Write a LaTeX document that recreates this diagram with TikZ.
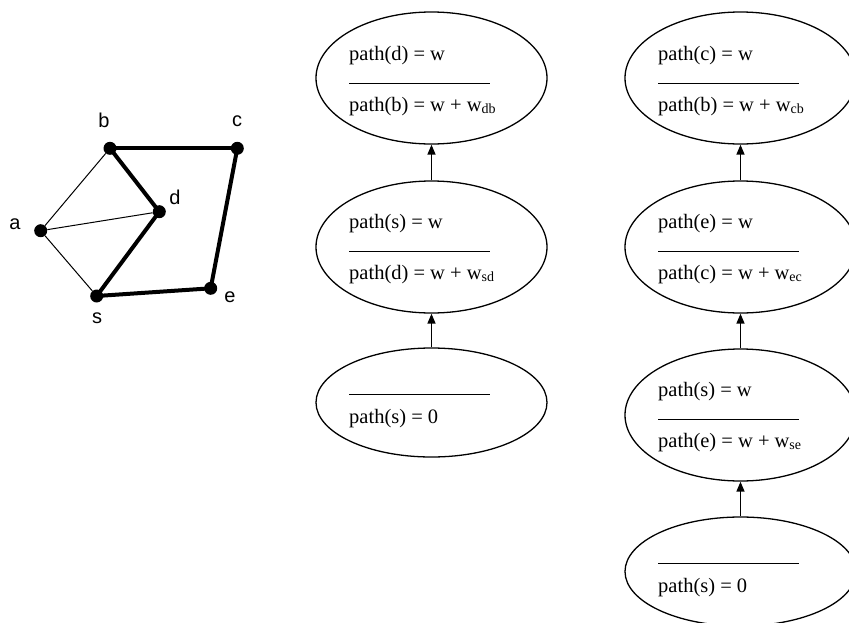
\documentclass[tikz,border=0pt]{standalone}
\usepackage{fontspec}
\setmainfont{Liberation Serif}
\newfontfamily\graphfont{Liberation Sans}
\usetikzlibrary{arrows.meta,shapes.geometric}
\newcommand{\wsub}[1]{w\raisebox{-2pt}{\fontsize{14}{14}\selectfont #1}}

\begin{document}
\begin{tikzpicture}[x=1pt,y=-1pt,
 vtx/.style={circle,fill=black,minimum size=13pt,inner sep=0pt},
 vlbl/.style={inner sep=0pt,font=\graphfont\fontsize{20}{24}\selectfont},
 thinedge/.style={line width=1pt},
 thickedge/.style={line width=4pt},
 oval/.style={draw,ellipse,line width=1.3pt,minimum width=231pt,minimum height=132pt,inner sep=0pt},
 lowoval/.style={oval,minimum height=109pt},
 txt/.style={anchor=base west,inner sep=0pt,font=\fontsize{20.5}{24}\selectfont},
 arr/.style={-{Triangle[length=10pt,width=8pt]},line width=1.5pt}]
 \useasboundingbox (0,0) rectangle (849,622);
 % graph
 \node[vtx] (a) at (40.7,230.7) {};
 \node[vtx] (b) at (110,148.3) {};
 \node[vtx] (c) at (237.3,148.3) {};
 \node[vtx] (d) at (159.3,211.7) {};
 \node[vtx] (s) at (96.7,296) {};
 \node[vtx] (e) at (210.7,288.3) {};
 \node[vlbl] (la) at (15,224) {a};
 \node[vlbl] (lb) at (104,120.5) {b};
 \node[vlbl] (lc) at (237,121.5) {c};
 \node[vlbl] (ld) at (175,197.5) {d};
 \node[vlbl] (ls) at (97,318) {s};
 \node[vlbl] (le) at (230,297) {e};
 \draw[thinedge] (a)--(b);
 \draw[thinedge] (a)--(d);
 \draw[thinedge] (a)--(s);
 \draw[thickedge] (b.center)--(c.center);
 \draw[thickedge] (b.center)--(d.center);
 \draw[thickedge] (d.center)--(s.center);
 \draw[thickedge] (s.center)--(e.center);
 \draw[thickedge] (e.center)--(c.center);

 % left column
 \node[oval] (l1) at (431.5,78) {};
 \node[oval] (l2) at (431.5,247) {};
 \node[lowoval] (l3) at (431.5,402.5) {};
 \node[txt] (l1top) at (349,60) {path(d) = w};
 \draw[line width=1pt] (349,83)--(490,83);
 \node[txt] (l1bot) at (349,111) {path(b) = w + \wsub{db}};
 \node[txt] (l2top) at (349,228) {path(s) = w};
 \draw[line width=1pt] (349,251)--(490,251);
 \node[txt] (l2bot) at (349,279) {path(d) = w + \wsub{sd}};
 \draw[line width=1pt] (349,394)--(490,394);
 \node[txt] (l3bot) at (349,423) {path(s) = 0};
 \draw[arr] (l2)--(l1);
 \draw[arr] (l3)--(l2);

 % right column
 \node[oval] (r1) at (740.5,78) {};
 \node[oval] (r2) at (740.5,247) {};
 \node[oval] (r3) at (740.5,415) {};
 \node[lowoval] (r4) at (740.5,571.5) {};
 \node[txt] (r1top) at (658,60) {path(c) = w};
 \draw[line width=1pt] (658,83)--(799,83);
 \node[txt] (r1bot) at (658,111) {path(b) = w + \wsub{cb}};
 \node[txt] (r2top) at (658,228) {path(e) = w};
 \draw[line width=1pt] (658,251)--(799,251);
 \node[txt] (r2bot) at (658,279) {path(c) = w + \wsub{ec}};
 \node[txt] (r3top) at (658,396) {path(s) = w};
 \draw[line width=1pt] (658,419)--(799,419);
 \node[txt] (r3bot) at (658,447) {path(e) = w + \wsub{se}};
 \draw[line width=1pt] (658,563)--(799,563);
 \node[txt] (r4bot) at (658,592) {path(s) = 0};
 \draw[arr] (r2)--(r1);
 \draw[arr] (r3)--(r2);
 \draw[arr] (r4)--(r3);
\end{tikzpicture}
\end{document}
